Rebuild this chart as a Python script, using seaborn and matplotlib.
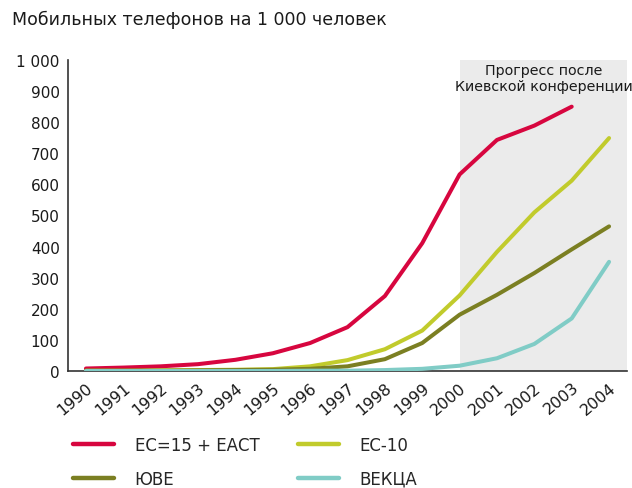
import matplotlib
matplotlib.use("Agg")
import matplotlib.pyplot as plt
import seaborn as sns
import pandas as pd
import numpy as np

years = list(range(1990, 2005))
eu15_efta = [8, 11, 15, 22, 36, 57, 90, 141, 241, 411, 632, 743, 789, 850, np.nan]
eu10 = [1, 1, 2, 3, 4, 6, 15, 35, 70, 130, 243, 383, 510, 612, 749]
see = [1, 1, 1, 2, 3, 4, 7, 15, 38, 90, 181, 245, 315, 391, 465]
eecca = [0, 0, 0, 0, 0, 0, 1, 1, 3, 7, 17, 41, 87, 169, 351]

names = ["ЕС=15 + ЕАСТ", "ЕС-10", "ЮВЕ", "ВЕКЦА"]
colors = ["#d7063f", "#c1cb2c", "#7b7f22", "#80ccc6"]
title = "Мобильных телефонов на 1 000 человек"
note = "Прогресс после\nКиевской конференции"
ytick_vals = [0, 100, 200, 300, 400, 500, 600, 700, 800, 900, 1000]
ytick_labels = ["0", "100", "200", "300", "400", "500", "600", "700", "800", "900", "1 000"]

sns.set_style("white")
plt.rcParams['font.family'] = ['DejaVu Sans']

frames = []
for n, vals in zip(names, [eu15_efta, eu10, see, eecca]):
    frames.append(pd.DataFrame({"year": years, "value": vals, "series": n}))
df = pd.concat(frames).dropna()

fig = plt.figure(figsize=(6.32, 4.89), dpi=100)
ax = fig.add_axes([68/632, 1-372/489, (627-68)/632, (372-61)/489])

ax.axvspan(2000, 2004.48, color="#ebebeb", zorder=0, lw=0)

sns.lineplot(data=df, x="year", y="value", hue="series", hue_order=names,
             palette=colors, linewidth=2.9, ax=ax, legend=False, zorder=3)

ax.set_xlim(1989.52, 2004.48)
ax.set_ylim(0, 1000)
ax.set_yticks(ytick_vals)
ax.set_yticklabels(ytick_labels, fontsize=11, color="#1a1a1a")
ax.set_xticks(years)
ax.set_xticklabels([str(y) for y in years], rotation=40, ha="right",
                   rotation_mode="anchor", fontsize=11.5, color="#1a1a1a")
ax.tick_params(axis="both", direction="out", length=4, width=1, color="#333333", pad=2)
ax.set_xlabel("")
ax.set_ylabel("")
for s in ["top", "right"]:
    ax.spines[s].set_visible(False)
for s in ["left", "bottom"]:
    ax.spines[s].set_color("#333333")
    ax.spines[s].set_linewidth(1.2)

ax.text(2002.25, 990, note, ha="center", va="top", fontsize=10.3, color="#1a1a1a",
        linespacing=1.15)

fig.text(12/632, 1-20/489, title, ha="left", va="center", fontsize=12.5, color="#1a1a1a")

from matplotlib.lines import Line2D
order = [0, 2, 1, 3]
handles = [Line2D([0], [0], color=colors[i], lw=3.2) for i in order]
labels = [names[i] for i in order]
fig.legend(handles, labels, ncol=2, loc="upper left", bbox_to_anchor=(58/632, 1-422/489),
           frameon=False, fontsize=12, handlelength=2.45, handletextpad=1.25,
           columnspacing=2.3, labelspacing=0.95)

fig.savefig("out.png", dpi=100)
